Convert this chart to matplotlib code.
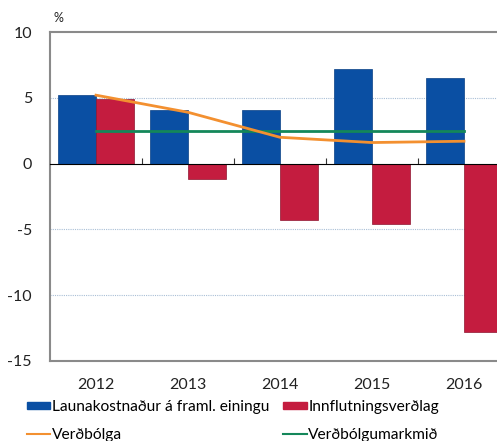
import numpy as np
import matplotlib
matplotlib.use("Agg")
import matplotlib.pyplot as plt
from matplotlib.patches import Patch
from matplotlib.lines import Line2D

years = ["2012", "2013", "2014", "2015", "2016"]
launakostn = [5.2, 4.1, 4.1, 7.2, 6.5]
innflutn = [4.9, -1.2, -4.3, -4.6, -12.8]
verdbolga = [5.2, 3.9, 2.0, 1.6, 1.7]
markmid = [2.5, 2.5, 2.5, 2.5, 2.5]

BLUE = "#0a4fa3"
RED = "#c41c3f"
ORANGE = "#f39030"
GREEN = "#14875a"

plt.rcParams['font.family'] = ['Lato', 'DejaVu Sans']

fig = plt.figure(figsize=(4.97, 4.41), dpi=100)
ax = fig.add_axes([50 / 497, 1 - 361 / 441, 460 / 497, 329 / 441])

x = np.arange(len(years))
w = 0.415
ax.bar(x - w / 2, launakostn, width=w, color=BLUE, edgecolor="#083f85", linewidth=0.5, zorder=2)
ax.bar(x + w / 2, innflutn, width=w, color=RED, edgecolor="#8e1530", linewidth=0.5, zorder=2)
ax.plot(x, markmid, color=GREEN, lw=2, zorder=4)
ax.plot(x, verdbolga, color=ORANGE, lw=2, zorder=5)

ax.set_xlim(-0.5, len(years) - 0.5)
ax.set_ylim(-15, 10)
ax.set_yticks([10, 5, 0, -5, -10, -15])
ax.set_yticklabels(["10", "5", "0", "-5", "-10", "-15"])
for yv in [5, -5, -10]:
    ax.axhline(yv, color="#a9bfd6", lw=0.8, ls=(0, (1, 1)), zorder=1)

ax.set_xticks(x)
ax.set_xticklabels(years)
ax.tick_params(axis="x", length=0, labelsize=11.5, pad=12, colors="#222222")
ax.tick_params(axis="y", length=0, labelsize=11.5, pad=13, colors="#222222")

for s in ["left", "top", "bottom"]:
    ax.spines[s].set_color("#8a8a8a")
    ax.spines[s].set_linewidth(1.5)
ax.spines["right"].set_visible(False)

# zero line with category separators
zero = ax.secondary_xaxis(15 / 25)
zero.set_xticks(np.arange(len(years) - 1) + 0.5)
zero.set_xticklabels([])
zero.tick_params(length=4, width=0.8, color="#333333")
zero.spines["bottom"].set_color("#333333")
zero.spines["bottom"].set_linewidth(1.2)
zero.set_zorder(3)

fig.text(54 / 497, 1 - 18 / 441, "%", fontsize=9, color="#222222", va="center")

handles = [Patch(color=BLUE), Line2D([], [], color=ORANGE, lw=1.5),
           Patch(color=RED), Line2D([], [], color=GREEN, lw=1.5)]
labels = ["Launakostnaður á framl. einingu", "Verðbólga",
          "Innflutningsverðlag", "Verðbólgumarkmið"]
fig.legend(handles, labels, ncol=2, loc="upper left", bbox_to_anchor=(27 / 497, 1 - 400 / 441),
           frameon=False, fontsize=11.2, handlelength=1.5, handleheight=0.4, handletextpad=0.1,
           columnspacing=0.9, labelspacing=0.9, borderaxespad=0, borderpad=0)

fig.savefig("out.png", dpi=100)
